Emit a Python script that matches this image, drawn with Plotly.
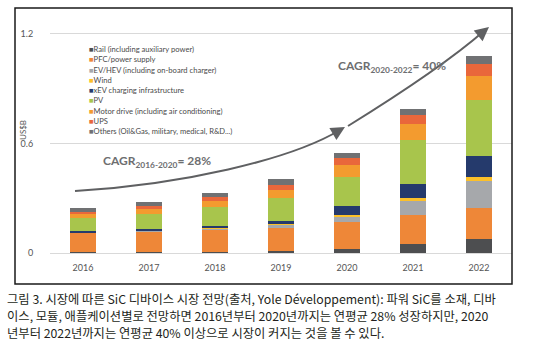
import plotly.graph_objects as go

# ---------------- data ----------------
years = ["2016", "2017", "2018", "2019", "2020", "2021", "2022"]

series_names = [
    "Rail (including auxiliary power)",
    "PFC/power supply",
    "EV/HEV (including on-board charger)",
    "Wind",
    "xEV charging infrastructure",
    "PV",
    "Motor drive (including air conditioning)",
    "UPS",
    "Others (Oil&Gas, military, medical, R&D...)",
]

rail   = [0.003, 0.003, 0.004, 0.012, 0.022, 0.049, 0.075]
pfc    = [0.107, 0.116, 0.122, 0.124, 0.146, 0.160, 0.173]
ev_hev = [0.002, 0.003, 0.009, 0.018, 0.033, 0.078, 0.146]
wind   = [0.001, 0.001, 0.002, 0.004, 0.007, 0.013, 0.022]
xev    = [0.007, 0.007, 0.009, 0.018, 0.047, 0.078, 0.115]
pv     = [0.071, 0.086, 0.106, 0.127, 0.164, 0.240, 0.306]
motor  = [0.020, 0.027, 0.031, 0.042, 0.064, 0.091, 0.131]
ups    = [0.013, 0.015, 0.024, 0.029, 0.036, 0.049, 0.069]
others = [0.024, 0.022, 0.024, 0.029, 0.031, 0.033, 0.040]

series_values = [rail, pfc, ev_hev, wind, xev, pv, motor, ups, others]

colors = ["#4d4e50", "#ee8738", "#a6a8ab", "#fcc02a", "#253a6c",
          "#a8c54c", "#f39b2f", "#e9673b", "#707173"]

y_ticks = [0, 0.6, 1.2]
y_tick_labels = ["0", "0.6", "1.2"]

cagr1 = "CAGR<sub>2016-2020</sub>= 28%"
cagr2 = "CAGR<sub>2020-2022</sub>= 40%"
caption_lines = [
    "그림 3. 시장에 따른 SiC 디바이스 시장 전망(출처, Yole Développement): 파워 SiC를 소재, 디바",
    "이스, 모듈, 애플케이션별로 전망하면 2016년부터 2020년까지는 연평균 28% 성장하지만, 2020",
    "년부터 2022년까지는 연평균 40% 이상으로 시장이 커지는 것을 볼 수 있다.",
]

# ---------------- layout geometry (pixels) ----------------
W, H = 538, 351
L, R, T, B = 50, 512, 12, 253


def px(X):
    return (X - L) / (R - L)


def py(Y):
    return (B - Y) / (B - T)


fig = go.Figure()
for name, vals, col in zip(series_names, series_values, colors):
    fig.add_trace(go.Bar(x=years, y=vals, name=name, marker_color=col,
                         marker_line_width=0, showlegend=False))

FONT = "Lato, 'Open Sans', sans-serif"

annotations = []
# legend as text annotations
for i, (name, col) in enumerate(zip(series_names, colors)):
    annotations.append(dict(
        xref="paper", yref="paper", x=px(87), y=py(49 + i * 10.25),
        xanchor="left", yanchor="middle", showarrow=False,
        text=f"<span style='color:{col}'>■</span>{name}",
        font=dict(family=FONT, size=7.6, color="#4a4a4a")))

# CAGR labels
annotations.append(dict(xref="paper", yref="paper", x=px(101), y=py(161),
                        xanchor="left", yanchor="middle", showarrow=False,
                        text=f"<b>{cagr1}</b>",
                        font=dict(family=FONT, size=12, color="#6d6e70")))
annotations.append(dict(xref="paper", yref="paper", x=px(336), y=py(66),
                        xanchor="left", yanchor="middle", showarrow=False,
                        text=f"<b>{cagr2}</b>",
                        font=dict(family=FONT, size=12, color="#6d6e70")))

# arrowheads
annotations.append(dict(xref="paper", yref="paper", x=px(345), y=py(127),
                        ax=-12, ay=7, text="", showarrow=True, arrowhead=2,
                        arrowsize=1.4, arrowwidth=2, arrowcolor="#5f6062", standoff=0))
annotations.append(dict(xref="paper", yref="paper", x=px(489), y=py(27),
                        ax=-11, ay=9, text="", showarrow=True, arrowhead=2,
                        arrowsize=1.4, arrowwidth=2, arrowcolor="#5f6062", standoff=0))

# y axis title
annotations.append(dict(xref="paper", yref="paper", x=px(23), y=py(130),
                        xanchor="center", yanchor="middle", showarrow=False,
                        text="US$B", textangle=-90,
                        font=dict(family=FONT, size=8, color="#555555")))

# caption, one annotation per line
for i, line in enumerate(caption_lines):
    annotations.append(dict(xref="paper", yref="paper", x=px(5), y=py(299 + i * 16.8),
                            xanchor="left", yanchor="middle", showarrow=False,
                            align="left", text=line,
                            font=dict(family="'Noto Sans CJK KR', sans-serif",
                                      size=12.3, color="#231f20")))

shapes = [
    # outer frame
    dict(type="rect", xref="paper", yref="paper",
         x0=px(15), x1=px(512), y0=py(284), y1=py(8),
         line=dict(color="#1a1a1a", width=1.5), layer="above"),
    # growth curves
    dict(type="path", xref="paper", yref="paper",
         path=(f"M {px(75)},{py(191)} C {px(180)},{py(185)} {px(290)},{py(160)} "
               f"{px(340)},{py(130)}"),
         line=dict(color="#5f6062", width=2)),
    dict(type="path", xref="paper", yref="paper",
         path=(f"M {px(348)},{py(126)} C {px(390)},{py(100)} {px(445)},{py(65)} "
               f"{px(484)},{py(31)}"),
         line=dict(color="#5f6062", width=2)),
]

fig.update_layout(
    width=W, height=H,
    margin=dict(l=L, r=W - R, t=T, b=H - B, pad=0),
    barmode="stack", bargap=0.6,
    paper_bgcolor="white", plot_bgcolor="white",
    annotations=annotations, shapes=shapes,
    xaxis=dict(type="category", showgrid=False, showline=False, zeroline=False,
               ticks="outside", ticklen=6, tickcolor="rgba(0,0,0,0)",
               tickfont=dict(family=FONT, size=9, color="#555555")),
    yaxis=dict(range=[0, 1.32], tickvals=y_ticks, ticktext=y_tick_labels,
               showgrid=True, gridcolor="#d9d9d9", gridwidth=1,
               zeroline=True, zerolinecolor="#d9d9d9", zerolinewidth=1,
               showline=False, ticks="outside", ticklen=14,
               tickcolor="rgba(0,0,0,0)",
               tickfont=dict(family=FONT, size=9, color="#555555")),
)

fig.write_html("out.html")
